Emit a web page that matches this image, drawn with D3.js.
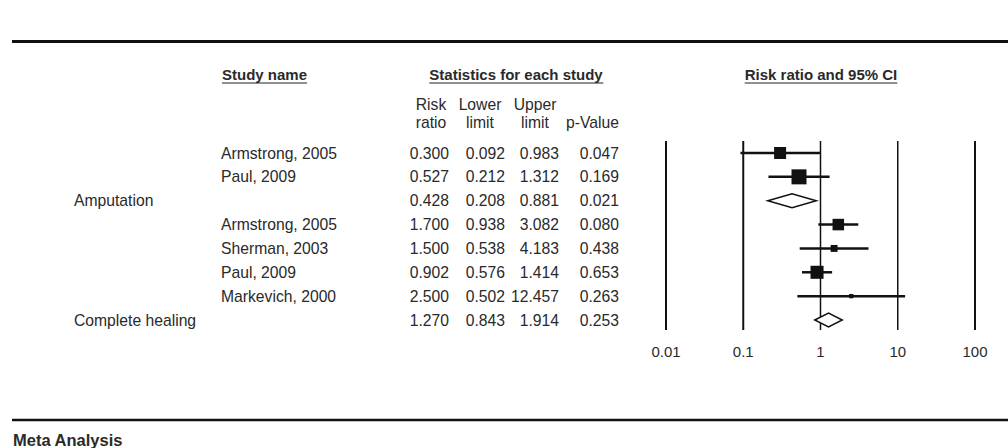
<!DOCTYPE html>
<html>
<head>
<meta charset="utf-8">
<script src="https://cdn.jsdelivr.net/npm/d3@7"></script>
<style>
  body { margin: 0; background: #fff; }
  text { font-family: "Liberation Sans", Arial, sans-serif; fill: #2a2a2a; }
</style>
</head>
<body>
<div id="chart"></div>
<script>
// table rows (summary rows carry the group label)
const groupLabels = ["", "", "Amputation", "", "", "", "", "Complete healing"];
const studyNames = ["Armstrong, 2005", "Paul, 2009", "", "Armstrong, 2005", "Sherman, 2003", "Paul, 2009", "Markevich, 2000", ""];
const riskRatio = [0.300, 0.527, 0.428, 1.700, 1.500, 0.902, 2.500, 1.270];
const lowerLimit = [0.092, 0.212, 0.208, 0.938, 0.538, 0.576, 0.502, 0.843];
const upperLimit = [0.983, 1.312, 0.881, 3.082, 4.183, 1.414, 12.457, 1.914];
const pValue = [0.047, 0.169, 0.021, 0.080, 0.438, 0.653, 0.263, 0.253];
const isSummary = [false, false, true, false, false, false, false, true];
const weights = [39, 61, 0, 36, 13, 46, 5, 0];
const axisTicks = [0.01, 0.1, 1, 10, 100];

const W = 1008, H = 448;
const fs = 15.7;

const svg = d3.select("#chart")
    .append("svg")
    .attr("width", W)
    .attr("height", H);

const x = d3.scaleLog()
    .domain([0.01, 100])
    .range([666, 975]);

const y = d3.scaleLinear()
    .domain([0, 7])
    .range([153, 320]);

const size = d3.scaleSqrt()
    .domain([0, 100])
    .range([0, 19.2]);

const fmt = d3.format(".3f");

// horizontal rules
svg.append("line")
    .attr("x1", 12).attr("x2", W)
    .attr("y1", 41.5).attr("y2", 41.5)
    .attr("stroke", "#111").attr("stroke-width", 3);

svg.append("line")
    .attr("x1", 12).attr("x2", W)
    .attr("y1", 420).attr("y2", 420)
    .attr("stroke", "#111").attr("stroke-width", 2.5);

svg.append("text")
    .attr("x", 13).attr("y", 446)
    .attr("font-size", 16.5).attr("font-weight", "bold")
    .text("Meta Analysis");

// section headers, underlined
const headers = [
    { t: "Study name", x: 222, anchor: "start" },
    { t: "Statistics for each study", x: 516, anchor: "middle" },
    { t: "Risk ratio and 95% CI", x: 821, anchor: "middle" }
];
headers.forEach(function (h) {
    const t = svg.append("text")
        .attr("x", h.x).attr("y", 80)
        .attr("text-anchor", h.anchor)
        .attr("font-size", 15).attr("font-weight", "bold")
        .text(h.t);
    const bb = t.node().getBBox();
    svg.append("line")
        .attr("x1", bb.x).attr("x2", bb.x + bb.width)
        .attr("y1", 83).attr("y2", 83)
        .attr("stroke", "#222").attr("stroke-width", 1);
});

// column headers
const colHeads = [
    { l1: "Risk", l2: "ratio", x: 431, anchor: "middle" },
    { l1: "Lower", l2: "limit", x: 480, anchor: "middle" },
    { l1: "Upper", l2: "limit", x: 535, anchor: "middle" },
    { l1: "", l2: "p-Value", x: 619, anchor: "end" }
];
colHeads.forEach(function (c) {
    svg.append("text").attr("x", c.x).attr("y", 110)
        .attr("text-anchor", c.anchor).attr("font-size", fs).text(c.l1);
    svg.append("text").attr("x", c.x).attr("y", 128)
        .attr("text-anchor", c.anchor).attr("font-size", fs).text(c.l2);
});

// table body
const rows = riskRatio.map(function (d, i) {
    return {
        group: groupLabels[i], study: studyNames[i], rr: d,
        lo: lowerLimit[i], hi: upperLimit[i], p: pValue[i],
        summary: isSummary[i], w: weights[i], i: i
    };
});

const cols = [
    { key: "rr", x: 449 },
    { key: "lo", x: 505 },
    { key: "hi", x: 559 },
    { key: "p", x: 619 }
];

const rowG = svg.selectAll(".row")
    .data(rows)
    .enter()
    .append("g")
    .attr("class", "row")
    .attr("transform", function (d) { return "translate(0," + (y(d.i) + 5.5) + ")"; });

rowG.append("text").attr("x", 74).attr("font-size", fs).text(function (d) { return d.group; });
rowG.append("text").attr("x", 221).attr("font-size", fs).text(function (d) { return d.study; });
cols.forEach(function (c) {
    rowG.append("text")
        .attr("x", c.x).attr("text-anchor", "end").attr("font-size", fs)
        .text(function (d) { return fmt(d[c.key]); });
});

// forest plot: reference lines
svg.selectAll(".ref")
    .data(axisTicks)
    .enter()
    .append("line")
    .attr("x1", function (d) { return x(d); })
    .attr("x2", function (d) { return x(d); })
    .attr("y1", 141).attr("y2", 330)
    .attr("stroke", "#111")
    .attr("stroke-width", function (d) { return (d === 1 || d === 10) ? 1.5 : 2; });

svg.selectAll(".tick-label")
    .data(axisTicks)
    .enter()
    .append("text")
    .attr("x", function (d) { return x(d); })
    .attr("y", 357)
    .attr("text-anchor", "middle")
    .attr("font-size", 15)
    .text(function (d) { return d; });

const studies = rows.filter(function (d) { return !d.summary; });
const summaries = rows.filter(function (d) { return d.summary; });

svg.selectAll(".ci")
    .data(studies)
    .enter()
    .append("line")
    .attr("x1", function (d) { return x(d.lo); })
    .attr("x2", function (d) { return x(Math.min(d.hi, 100)); })
    .attr("y1", function (d) { return y(d.i); })
    .attr("y2", function (d) { return y(d.i); })
    .attr("stroke", "#111").attr("stroke-width", 2.5);

svg.selectAll(".box")
    .data(studies)
    .enter()
    .append("rect")
    .attr("x", function (d) { return x(d.rr) - size(d.w) / 2; })
    .attr("y", function (d) { return y(d.i) - size(d.w) / 2; })
    .attr("width", function (d) { return size(d.w); })
    .attr("height", function (d) { return size(d.w); })
    .attr("fill", "#111");

svg.selectAll(".diamond")
    .data(summaries)
    .enter()
    .append("path")
    .attr("d", function (d) {
        const cy = y(d.i), h = 7;
        return "M" + x(d.lo) + "," + cy + "L" + x(d.rr) + "," + (cy - h) +
            "L" + x(d.hi) + "," + cy + "L" + x(d.rr) + "," + (cy + h) + "Z";
    })
    .attr("fill", "#fff")
    .attr("stroke", "#111")
    .attr("stroke-width", 1.5);
</script>
</body>
</html>
